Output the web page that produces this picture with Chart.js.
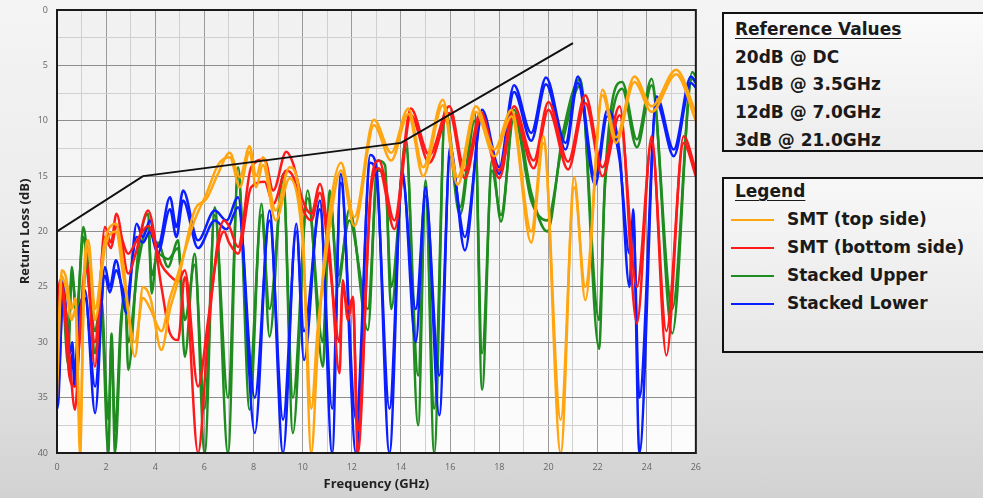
<!DOCTYPE html>
<html>
<head>
<meta charset="utf-8">
<script src="https://cdn.jsdelivr.net/npm/chart.js@4.4.1/dist/chart.umd.min.js"></script>
<style>
  html, body { margin: 0; padding: 0; }
  body {
    width: 983px; height: 498px; overflow: hidden; position: relative;
    background: linear-gradient(to bottom, #f4f4f4 0%, #ececec 45%, #dedede 80%, #d2d2d2 100%);
    font-family: "DejaVu Sans", Verdana, sans-serif;
  }
  #wrap { position: absolute; left: 0; top: 0; width: 710px; height: 498px; }
  .box {
    position: absolute; left: 722px; width: 280px;
    border: 2px solid #111; box-sizing: border-box;
    background: linear-gradient(to bottom, rgba(255,255,255,0.55), rgba(235,235,235,0.5));
    font-weight: bold; font-size: 17px; color: #1a1a1a;
  }
  #refBox { top: 12px; height: 140px; }
  #legBox { top: 177px; height: 176px; }
  .row { position: absolute; left: 11px; white-space: nowrap; line-height: 20px; }
  .u { text-decoration: underline; text-underline-offset: 3px; }
  .swatch { position: absolute; left: 7px; width: 43px; height: 2px; }
</style>
</head>
<body>
<div id="wrap"><canvas id="myChart" width="710" height="498"></canvas></div>
<div class="box" id="refBox"></div>
<div class="box" id="legBox"></div>
<script>
// reference mask (dB vs GHz)
const refF = [0, 3.5, 14, 21];
const refDb = [20, 15, 12, 3];

// SMT (top side)
const oF = [0,0.1,0.19,0.35,0.6,0.75,0.94,1.1,1.27,1.55,1.95,2.4,2.7,3.17,3.5,3.8,4.25,4.6,4.9,5.6,6.1,6.55,7.03,7.44,7.84,8.1,8.38,8.9,9.47,10.0,10.35,10.6,10.9,11.56,12.1,12.9,13.6,14.3,14.9,15.7,16.3,17.05,17.8,18.5,19.3,19.8,20.5,21.05,21.5,22.2,22.75,23.5,24.2,25.2,26];
const oA = [35,28,23.5,24,27,26,40,24,20.8,27,20.8,19.3,23,31.3,25,26,30.7,27,24.7,18.1,17,14.8,12.9,15.1,12.3,15,13.3,18.1,14.2,20,40,31,22,13.8,18.7,9.9,12.9,8.9,14.2,8.1,15.1,8.7,12.6,9.0,20,11.4,40,15.1,26.2,7.2,11.5,6.0,8.7,5.4,9.3];
const oB = [33,27,24,25,28,27,38,25,21.5,28,21.5,20,24,30,26,27,29,26,24,19,16.5,14,13.3,16,12.8,16,14,19,15.2,21,36,29,23,14.5,19.5,10.4,13.6,9.4,15,8.6,15.8,9.2,13.2,9.6,21,12,37,16,25,7.7,12,6.5,9.2,5.8,10];

// SMT (bottom side)
const rF = [0,0.12,0.3,0.5,0.73,0.95,1.2,1.54,1.95,2.2,2.42,2.9,3.2,3.71,4.25,4.6,4.93,5.2,5.74,6.15,6.55,6.8,7.0,7.37,7.9,8.45,8.8,9.33,9.6,10.0,10.35,10.7,11.1,11.5,11.63,11.84,12.04,12.24,12.78,13.1,13.73,14.4,15.15,15.97,16.6,17.25,18.0,18.6,19.4,20.0,20.8,21.5,22.2,22.9,23.6,24.2,24.8,25.5,26];
const rA = [28,24.4,26,31,36.1,28,22.6,32.2,19.6,21,18.4,23.8,22,18.1,25,29.2,29.8,24.1,40,29.2,20.8,19,19.5,21.4,14.2,13.5,16.3,12.8,13.8,17.2,18.4,15.7,22,32.8,24.4,28,25.9,40,15.7,13.6,19,8.9,13.1,8.7,14.5,9.2,14.5,8.7,13.6,8.3,13.7,7.7,14.2,8.7,28.3,11.4,31.2,11.4,14.5];
const rB = [29,25,27,33,34,29,23.5,30,20.5,21.5,19.5,22,21,19.5,23,24,24.5,23.5,34,28,21.5,20,21,22,16,15.5,17.5,14.5,15,18,19,16.5,23,30,25,27,26,38,16.5,14.3,19.8,9.5,13.8,9.3,15.2,9.8,15.2,9.4,14.3,9,14.4,8.4,15,9.5,25,12,29,12,15];

// Stacked Upper
const gF = [0,0.2,0.45,0.6,0.8,1.07,1.3,1.55,1.8,2.09,2.22,2.36,2.6,2.76,2.9,3.3,3.71,3.85,4.1,4.52,4.93,5.2,5.6,6.01,6.42,6.96,7.37,7.84,8.32,8.65,9.2,9.6,10.2,10.82,11.1,11.43,11.9,12.65,13.05,13.35,13.6,14.2,14.7,15.0,15.35,15.8,16.4,17.0,17.3,17.7,18.07,18.6,19.3,19.95,20.6,21.3,22.06,22.3,23.0,23.6,24.2,25.04,25.85,26];
const gA = [27,25,32,23.2,28,19.6,24,31,27,40,29.2,40,29,25,32.5,22,18.4,25.6,21,23.2,20.8,31.3,22,40,17.8,40,14.2,36.1,17.5,29.5,14.8,38.2,16.3,32.2,16.3,25,18,28.9,13.6,14,27,11.7,37.5,15.4,40,8.9,17.8,9.3,34.3,13.6,19.1,9.0,16.5,20,11,6.2,30.6,15.4,6.5,11.7,6.2,29.2,5.6,6];
const gB = [28,26,30,24,27,20.5,25,29,26,37,30,38,28,26,30,23,19.5,24,22,22.5,21.5,28,23,36,18.5,35,15,33,18.5,27,15.5,35,17,30,17,24,19,27,14.5,15,25,12.5,33,16,36,9.5,18.5,10,31,14.5,18.5,9.6,17.2,19,11.7,6.8,28,16,7.1,12.4,6.8,27,6.2,6.6];

// Stacked Lower
const bF = [0,0.06,0.26,0.53,0.62,0.72,0.9,1.14,1.55,1.95,2.15,2.4,2.83,3.24,3.5,3.78,4.1,4.6,4.86,5.13,5.74,6.42,6.9,7.37,8.05,8.65,9.2,9.74,10.05,10.7,11.2,11.55,12.17,12.75,13.0,13.53,14.05,14.6,15.0,15.56,16.0,16.6,17.3,18.0,18.6,19.3,19.9,20.7,21.2,21.9,22.4,22.9,23.3,23.45,23.7,24.4,25.1,25.8,26];
const bA = [36,35.2,24.4,33.1,31,34,28,25.3,36.4,23.2,25,22.6,27.4,19.3,20.5,19,21.4,16.9,19.6,16.3,20.8,18.1,19,16.9,38.2,18.1,40,19.3,31.6,17.2,40,14.8,40,13.1,14.2,40,14.5,30,16,36.6,12.4,21.7,9.0,14.2,6.8,11.1,6.1,12.0,6.0,15.1,9.0,13,25,18,40,7.8,12.6,6.0,6.5];
const bB = [35,34,25.5,31,30,33,27,26,34,24,25.5,23.5,26,20.5,21,20,22,18,20.5,17.2,21.5,19,19.8,17.8,35,19,37,20,29,18,36,15.6,37,13.8,15,36,15.2,27,16.8,33,13.2,20.5,9.6,14.8,7.4,11.8,6.7,12.6,6.6,15.8,9.6,13.6,22,19,35,8.4,13.2,6.6,7];

const seriesNames = ["SMT (top side)", "SMT (bottom side)", "Stacked Upper", "Stacked Lower"];
const seriesColors = ["#ffa510", "#ff1a1a", "#1e8c1e", "#0a1eff"];
const refLines = ["Reference Values", "20dB @ DC", "15dB @ 3.5GHz", "12dB @ 7.0GHz", "3dB @ 21.0GHz"];

const pts = (xs, ys) => xs.map((x, i) => ({ x: x, y: ys[i] }));

const trace = (label, xs, ys, color) => ({
  label: label,
  data: pts(xs, ys),
  borderColor: color,
  borderWidth: 2.5,
  pointRadius: 0,
  fill: false,
  cubicInterpolationMode: "monotone",
});

const data = {
  datasets: [
    { label: "Reference", data: pts(refF, refDb), borderColor: "#111", borderWidth: 2, pointRadius: 0, tension: 0 },
    trace(seriesNames[0], oF, oA, seriesColors[0]),
    trace(seriesNames[0], oF, oB, seriesColors[0]),
    trace(seriesNames[1], rF, rA, seriesColors[1]),
    trace(seriesNames[1], rF, rB, seriesColors[1]),
    trace(seriesNames[3], bF, bA, seriesColors[3]),
    trace(seriesNames[3], bF, bB, seriesColors[3]),
    trace(seriesNames[2], gF, gA, seriesColors[2]),
    trace(seriesNames[2], gF, gB, seriesColors[2]),
  ],
};

// plot background + frame
const plotFrame = {
  id: "plotFrame",
  beforeDraw(chart) {
    const { ctx, chartArea: a } = chart;
    const g = ctx.createLinearGradient(0, a.top, 0, a.bottom);
    g.addColorStop(0, "#f1f1f1");
    g.addColorStop(1, "#fcfcfc");
    ctx.save();
    ctx.fillStyle = g;
    ctx.fillRect(a.left, a.top, a.right - a.left, a.bottom - a.top);
    ctx.restore();
  },
  afterDraw(chart) {
    const { ctx, chartArea: a } = chart;
    ctx.save();
    ctx.strokeStyle = "#1a1a1a";
    ctx.lineWidth = 2;
    ctx.strokeRect(a.left, a.top, a.right - a.left, a.bottom - a.top);
    ctx.restore();
  },
};

const config = {
  type: "line",
  data: data,
  options: {
    responsive: false,
    animation: false,
    layout: { padding: { left: 13, top: 10, right: 13, bottom: 2 } },
    plugins: { legend: { display: false }, tooltip: { enabled: false } },
    scales: {
      x: {
        type: "linear",
        min: 0,
        max: 26,
        afterFit: (s) => { s.height = 43; },
        border: { display: false },
        grid: {
          drawTicks: false,
          color: (c) => (c.tick.value % 2 === 0 ? "#9a9a9a" : "#d0d0d0"),
        },
        ticks: {
          stepSize: 1,
          autoSkip: false,
          maxRotation: 0,
          padding: 9,
          color: "#666",
          font: { family: "Open Sans", size: 9 },
          callback: (v) => (v % 2 === 0 ? v : ""),
        },
        title: {
          display: true,
          text: "Frequency (GHz)",
          color: "#222",
          padding: { top: 0, bottom: 4 },
          font: { family: "Open Sans", size: 13, weight: "bold" },
        },
      },
      y: {
        min: 0,
        max: 40,
        reverse: true,
        afterFit: (s) => { s.width = 44; s.paddingTop = 0; s.paddingBottom = 0; },
        border: { display: false },
        grid: {
          drawTicks: false,
          color: (c) => (c.tick.value % 5 === 0 ? "#8e8e8e" : "#d0d0d0"),
        },
        ticks: {
          stepSize: 2.5,
          autoSkip: false,
          padding: 9,
          color: "#666",
          font: { family: "Open Sans", size: 9 },
          callback: (v) => (v % 5 === 0 ? v : ""),
        },
        title: {
          display: true,
          text: "Return Loss (dB)",
          color: "#222",
          padding: { top: 4, bottom: 0 },
          font: { family: "Open Sans", size: 13, weight: "bold" },
        },
      },
    },
  },
  plugins: [plotFrame],
};

let myChart = new Chart(document.getElementById("myChart"), config);

// side boxes
const refBox = document.getElementById("refBox");
refLines.forEach((t, i) => {
  const d = document.createElement("div");
  d.className = "row" + (i === 0 ? " u" : "");
  d.style.top = (5 + i * 27.7) + "px";
  d.textContent = t;
  refBox.appendChild(d);
});

const legBox = document.getElementById("legBox");
const head = document.createElement("div");
head.className = "row u";
head.style.top = "2px";
head.textContent = "Legend";
legBox.appendChild(head);
seriesNames.forEach((name, i) => {
  const top = 30 + i * 28;
  const sw = document.createElement("div");
  sw.className = "swatch";
  sw.style.top = (top + 10) + "px";
  sw.style.background = seriesColors[i];
  legBox.appendChild(sw);
  const d = document.createElement("div");
  d.className = "row";
  d.style.left = "63px";
  d.style.top = top + "px";
  d.textContent = name;
  legBox.appendChild(d);
});
</script>
</body>
</html>
